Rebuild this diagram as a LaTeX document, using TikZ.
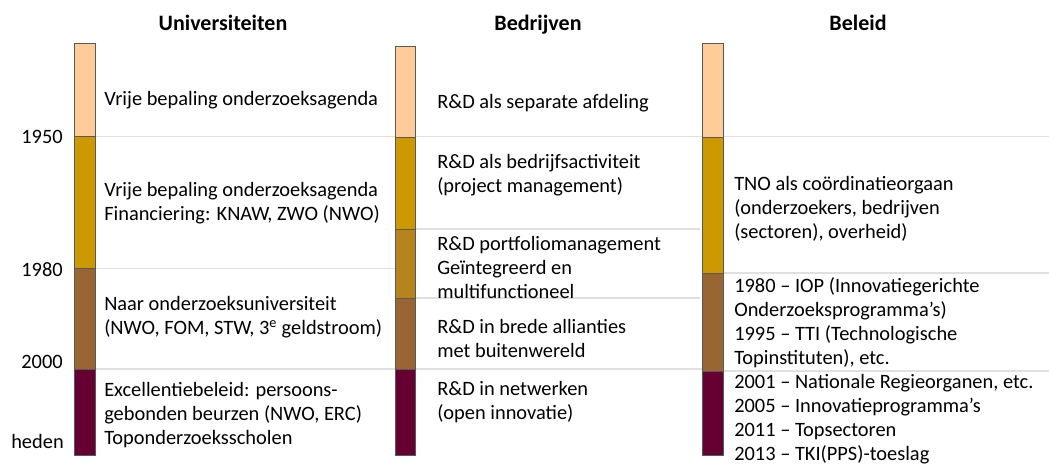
\documentclass[tikz,border=0pt]{standalone}
\usepackage{fontspec}
\setmainfont{Carlito}
\usepackage{tikz}
\definecolor{erapale}{HTML}{FFCC99}
\definecolor{eragold}{HTML}{CC9900}
\definecolor{eraochre}{HTML}{B5841C}
\definecolor{erabrown}{HTML}{996633}
\definecolor{eraplum}{HTML}{660033}
\definecolor{rulegray}{HTML}{E0E0E0}
\tikzset{
  era/.style     = {draw=black!65, line width=0.6pt},
  sepline/.style = {draw=rulegray, line width=1.1pt},
  phase/.style   = {anchor=west, align=left, inner sep=0pt,
                    font=\fontsize{15.3}{18}\selectfont},
  yearlab/.style = {anchor=east, inner sep=0pt, font=\fontsize{15.3}{18}\selectfont},
  colhead/.style = {anchor=base, inner sep=0pt, font=\bfseries\fontsize{16.5}{18}\selectfont},
}

\begin{document}
\begin{tikzpicture}[x=0.75pt, y=-0.75pt]
  \useasboundingbox (0,0) rectangle (1049,466);
  % column headings
  \node[colhead] (hUni) at (223,31) {Universiteiten};
  \node[colhead] (hBed) at (538,31) {Bedrijven};
  \node[colhead] (hBel) at (858,31) {Beleid};
  % period separators
  \draw[sepline] (95,136.5) -- (1049,136.5);
  \draw[sepline] (95,268.5) -- (395,268.5);
  \draw[sepline] (415,229) -- (700,229);
  \draw[sepline] (415,298) -- (700,298);
  \draw[sepline] (95,369) -- (702,369);
  \draw[sepline] (723,273) -- (1049,273);
  \draw[sepline] (723,371) -- (1049,371);
  % universiteiten bar
  \filldraw[era, fill=erapale]  (74,43.5) rectangle (95,136.5);
  \filldraw[era, fill=eragold]  (74,136.5) rectangle (95,268.5);
  \filldraw[era, fill=erabrown] (74,268.5) rectangle (95,369);
  \filldraw[era, fill=eraplum]  (74,369) rectangle (95,455);
  % bedrijven bar
  \filldraw[era, fill=erapale]  (395,46) rectangle (415,137);
  \filldraw[era, fill=eragold]  (395,137) rectangle (415,229);
  \filldraw[era, fill=eraochre] (395,229) rectangle (415,298);
  \filldraw[era, fill=erabrown] (395,298) rectangle (415,369);
  \filldraw[era, fill=eraplum]  (395,369) rectangle (415,455);
  % beleid bar
  \filldraw[era, fill=erapale]  (702,43.5) rectangle (723,137);
  \filldraw[era, fill=eragold]  (702,137) rectangle (723,273);
  \filldraw[era, fill=erabrown] (702,273) rectangle (723,371);
  \filldraw[era, fill=eraplum]  (702,371) rectangle (723,455);
  % years
  \node[yearlab] (y1950) at (63,137) {1950};
  \node[yearlab] (y1980) at (63,270) {1980};
  \node[yearlab] (y2000) at (63,362) {2000};
  \node[yearlab] (yNow)  at (64,441) {heden};
  % universiteiten
  \node[phase] (u1) at (104,100) {Vrije bepaling onderzoeksagenda};
  \node[phase] (u2) at (104,203.5) {Vrije bepaling onderzoeksagenda\\Financiering: KNAW, ZWO (NWO)};
  \node[phase] (u3) at (104,317) {Naar onderzoeksuniversiteit\\(NWO, FOM, STW, 3\textsuperscript{e} geldstroom)};
  \node[phase] (u4) at (104,415) {Excellentiebeleid: persoons-\\gebonden beurzen (NWO, ERC)\\Toponderzoeksscholen};
  % bedrijven
  \node[phase] (b1) at (437,103) {R\&D als separate afdeling};
  \node[phase] (b2) at (437,175.5) {R\&D als bedrijfsactiviteit\\(project management)};
  \node[phase] (b3) at (437,267.5) {R\&D portfoliomanagement\\Geïntegreerd en\\multifunctioneel};
  \node[phase] (b4) at (437,338) {R\&D in brede allianties\\met buitenwereld};
  \node[phase] (b5) at (437,402.5) {R\&D in netwerken\\(open innovatie)};
  % beleid
  \node[phase] (p1) at (734,208.5) {TNO als coördinatieorgaan\\(onderzoekers, bedrijven\\(sectoren), overheid)};
  \node[phase] (p2) at (734,323) {1980 – IOP (Innovatiegerichte\\Onderzoeksprogramma’s)\\1995 – TTI (Technologische\\Topinstituten), etc.};
  \node[phase] (p3) at (734,419) {2001 – Nationale Regieorganen, etc.\\2005 – Innovatieprogramma’s\\2011 – Topsectoren\\2013 – TKI(PPS)-toeslag};
\end{tikzpicture}
\end{document}
